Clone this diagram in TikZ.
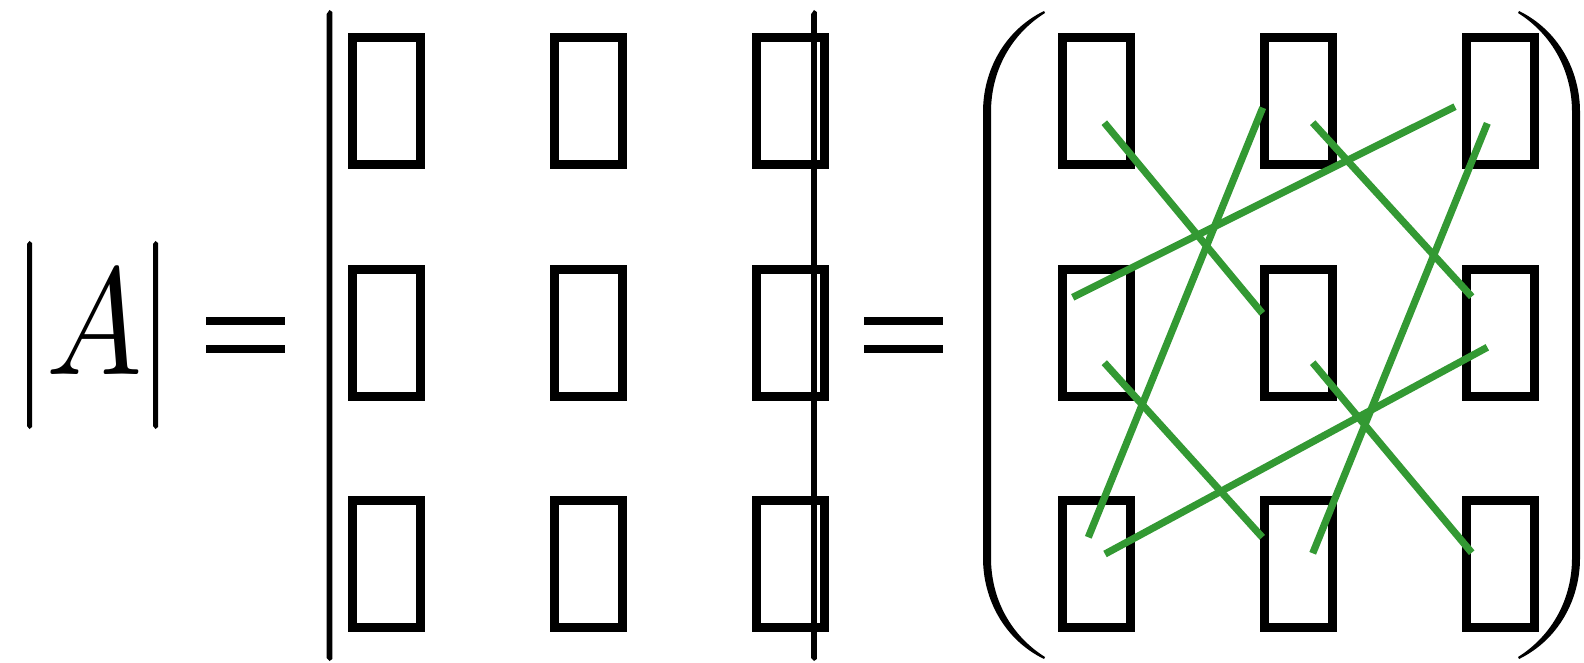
\documentclass[tikz,border=0pt]{standalone}
\usepackage{graphicx}
\usepackage{fontspec}
\definecolor{sarrus}{RGB}{51,153,51}
\begin{document}
\begin{tikzpicture}[x=0.5pt,y=-0.5pt,
  tofu/.style={draw=black,line width=4.5pt,minimum width=34pt,minimum height=63.5pt,inner sep=0pt,outer sep=0pt},
  sarrusline/.style={draw=sarrus,line width=3.6pt,line cap=butt}]
\useasboundingbox (0,0) rectangle (1584,663);
% |A|
\fill (27,244) -- (29.5,241) -- (32,243) -- (32,427) -- (29.5,429) -- (27,426) -- cycle;
\fill (153,244) -- (155.5,241) -- (158,243) -- (158,427) -- (155.5,429) -- (153,426) -- cycle;
\node[anchor=base,inner sep=0pt] (A) at (95,374) {\scalebox{6.4}[7.6]{$A$}};
% first =
\fill (206,317) rectangle (285,325);
\fill (206,345) rectangle (285,353);
% determinant bars
\fill (326.7,14) -- (329.5,10) -- (332.3,12) -- (332.3,659) -- (329.5,661) -- (326.7,658) -- cycle;
\fill (811.2,14) -- (814,10) -- (816.8,12) -- (816.8,659) -- (814,661) -- (811.2,658) -- cycle;
% boxes of the determinant
\foreach \c/\x in {1/386.5,2/588.5,3/790.5}{
  \foreach \r/\y in {1/101,2/333,3/564}{
    \node[tofu] (d\r\c) at (\x,\y) {};
  }
}
% second =
\fill (864,317) rectangle (943,325);
\fill (864,345) rectangle (943,353);
% parentheses
\fill (1044,11) .. controls (1005,30) and (983,70) .. (983,112) -- (983,558)
  .. controls (983,600) and (1005,640) .. (1044,659) -- (1045,657)
  .. controls (1010,635) and (991,598) .. (991,558) -- (991,112)
  .. controls (991,72) and (1010,35) .. (1045,13) -- cycle;
\fill (1519,11) .. controls (1558,30) and (1580,70) .. (1580,112) -- (1580,558)
  .. controls (1580,600) and (1558,640) .. (1519,659) -- (1518,657)
  .. controls (1553,635) and (1572,598) .. (1572,558) -- (1572,112)
  .. controls (1572,72) and (1553,35) .. (1518,13) -- cycle;
% boxes of the matrix
\foreach \c/\x in {1/1096,2/1298,3/1500}{
  \foreach \r/\y in {1/101,2/333,3/564}{
    \node[tofu] (m\r\c) at (\x,\y) {};
  }
}
% green lines
\draw[sarrusline] (1104.3,122.7) -- (1262.3,313.3);
\draw[sarrusline] (1312.7,122.7) -- (1471.7,296.7);
\draw[sarrusline] (1104.3,362.7) -- (1262.3,537.3);
\draw[sarrusline] (1312.7,362.7) -- (1471.7,552.7);
\draw[sarrusline] (1072.7,297.3) -- (1455,106.7);
\draw[sarrusline] (1105,554) -- (1487.3,347.3);
\draw[sarrusline] (1262.7,107.7) -- (1088.3,537.3);
\draw[sarrusline] (1487.3,123.3) -- (1312.7,553.3);
\end{tikzpicture}
\end{document}
